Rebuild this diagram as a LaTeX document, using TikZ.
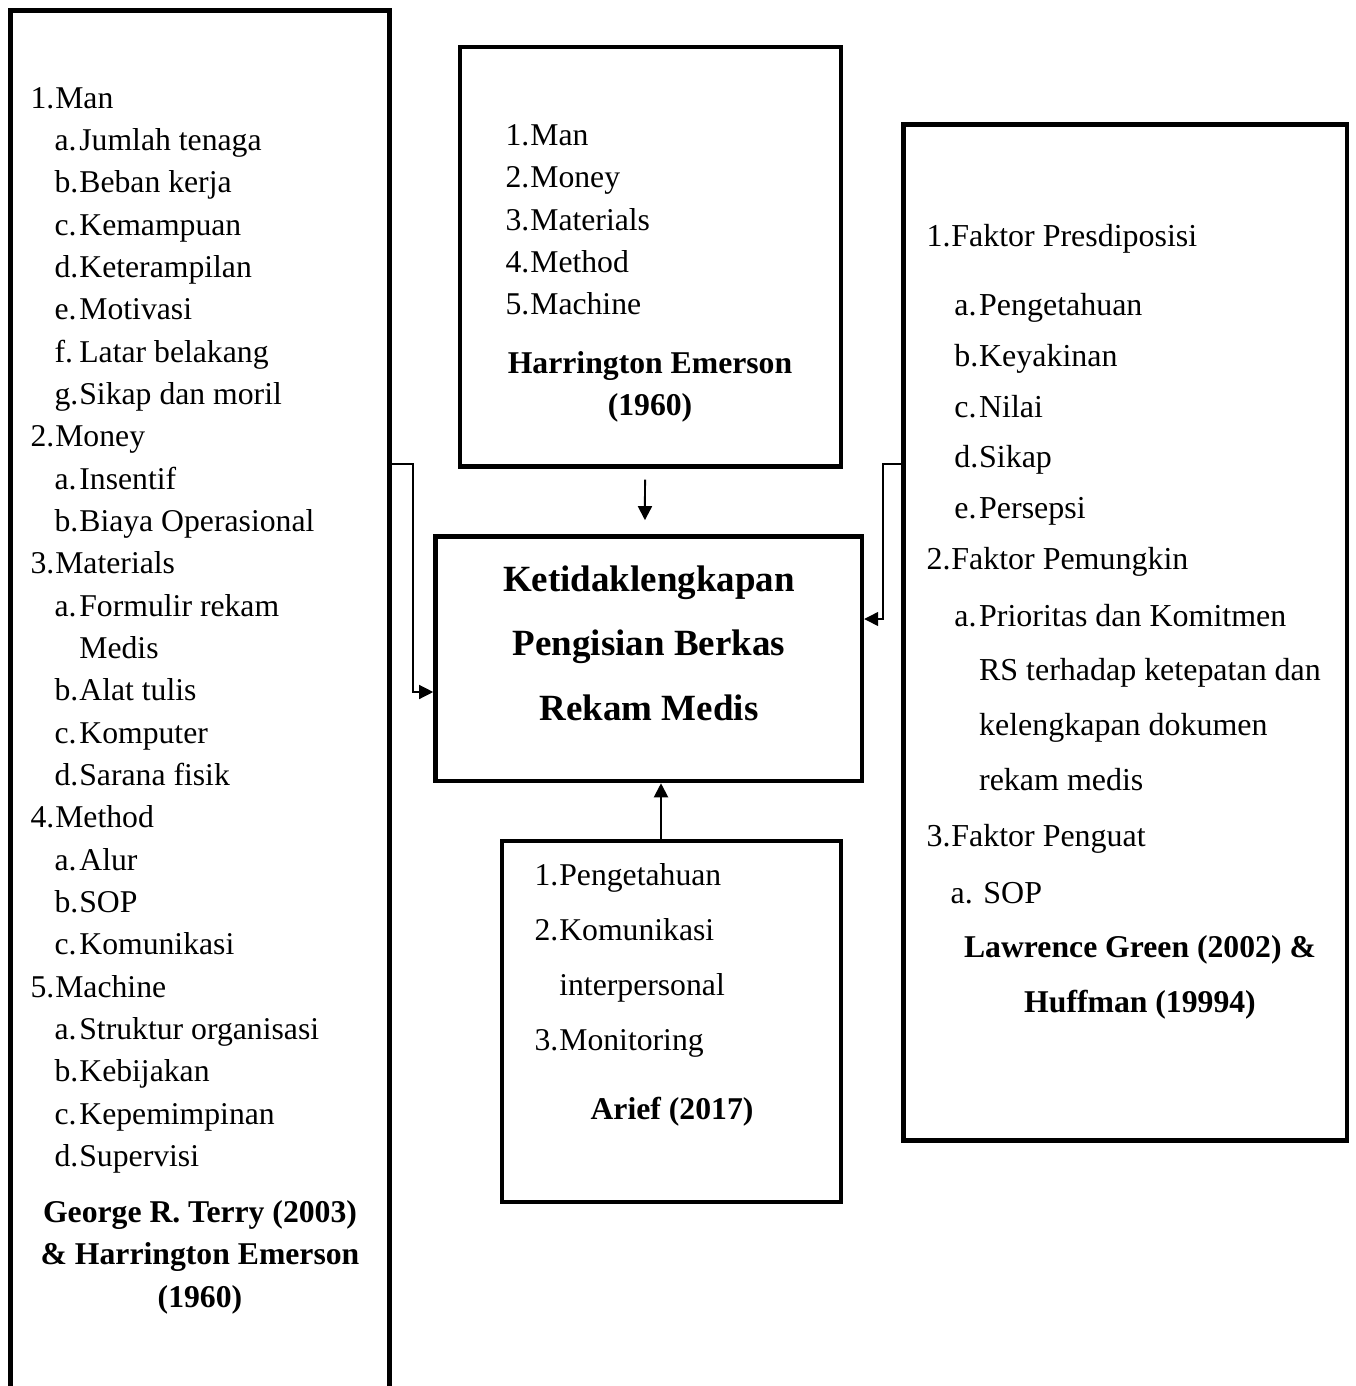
\documentclass[tikz,border=0pt]{standalone}
\usepackage{fontspec}
\setmainfont{Liberation Serif}
\usetikzlibrary{positioning, arrows.meta}

\newcommand{\itm}[2]{\makebox[0.33cm][l]{#1}#2}
\newcommand{\ind}{\hspace*{0.32cm}}
\newcommand{\indk}{\hspace*{0.37cm}}

\begin{document}
\begin{tikzpicture}[x=0.0133cm, y=-0.0133cm,
    kotak/.style={draw, line width=1.7pt, inner sep=0pt},
    isi/.style={anchor=north west, inner sep=0pt, align=left,
        font=\fontsize{12}{16.03}\selectfont},
    judul/.style={anchor=north, inner sep=0pt, align=center,
        font=\fontsize{12}{16.03}\selectfont\bfseries},
    panah/.style={-{Triangle[length=5.3pt, width=5.3pt]}, line width=0.75pt},
    garis/.style={-{Triangle[length=5.3pt, width=5.3pt]}, line width=0.5pt}]
    \clip (0,0) rectangle (1355,1386);

    % kotak
    \node [kotak, minimum width=5.046cm, minimum height=18.75cm] (terry) at (200,715) {};
    \node [kotak, minimum width=5.067cm, minimum height=5.579cm] (emerson) at (650.5,256.8) {};
    \node [kotak, minimum width=5.675cm, minimum height=3.255cm] (pusat) at (648.7,658.7) {};
    \node [kotak, minimum width=4.509cm, minimum height=4.801cm] (arief) at (671.5,1021.5) {};
    \node [kotak, minimum width=5.903cm, minimum height=13.52cm] (green) at (1125.4,632.6) {};

    % isi kiri
    \node [isi] (terrylist) at (30,86.6) {
        \itm{1.}{Man}\\
        \ind\itm{a.}{Jumlah tenaga}\\
        \ind\itm{b.}{Beban kerja}\\
        \ind\itm{c.}{Kemampuan}\\
        \ind\itm{d.}{Keterampilan}\\
        \ind\itm{e.}{Motivasi}\\
        \ind\itm{f.}{Latar belakang}\\
        \ind\itm{g.}{Sikap dan moril}\\
        \itm{2.}{Money}\\
        \ind\itm{a.}{Insentif}\\
        \ind\itm{b.}{Biaya Operasional}\\
        \itm{3.}{Materials}\\
        \ind\itm{a.}{Formulir rekam}\\
        \ind\itm{}{Medis}\\
        \ind\itm{b.}{Alat tulis}\\
        \ind\itm{c.}{Komputer}\\
        \ind\itm{d.}{Sarana fisik}\\
        \itm{4.}{Method}\\
        \ind\itm{a.}{Alur}\\
        \ind\itm{b.}{SOP}\\
        \ind\itm{c.}{Komunikasi}\\
        \itm{5.}{Machine}\\
        \ind\itm{a.}{Struktur organisasi}\\
        \ind\itm{b.}{Kebijakan}\\
        \ind\itm{c.}{Kepemimpinan}\\
        \ind\itm{d.}{Supervisi}
    };
    \node [judul] (terryref) at (200,1200) {George R. Terry (2003)\\ \& Harrington Emerson\\ (1960)};

    % isi atas
    \node [isi, font=\fontsize{12}{16.08}\selectfont] (emersonlist) at (505,123.6) {
        \itm{1.}{Man}\\
        \itm{2.}{Money}\\
        \itm{3.}{Materials}\\
        \itm{4.}{Method}\\
        \itm{5.}{Machine}
    };
    \node [judul] (emersonref) at (650,350.6) {Harrington Emerson\\ (1960)};

    % isi tengah
    \node [judul, font=\fontsize{14}{24.4}\selectfont\bfseries] (pusattext) at (649,565) {
        Ketidaklengkapan\\ Pengisian Berkas\\ Rekam Medis};

    % isi bawah
    \node [isi, font=\fontsize{12}{20.8}\selectfont] (arieflist) at (534,863.3) {
        \itm{1.}{Pengetahuan}\\
        \itm{2.}{Komunikasi}\\
        \itm{}{interpersonal}\\
        \itm{3.}{Monitoring}
    };
    \node [judul] (ariefref) at (672,1097) {Arief (2017)};

    % isi kanan
    \node [isi, font=\fontsize{12.1}{19.2}\selectfont] (greenlist) at (926,223.5) {
        \itm{1.}{Faktor Presdiposisi}\\[0.25cm]
        \indk\itm{a.}{Pengetahuan}\\
        \indk\itm{b.}{Keyakinan}\\
        \indk\itm{c.}{Nilai}\\
        \indk\itm{d.}{Sikap}\\
        \indk\itm{e.}{Persepsi}\\
        \itm{2.}{Faktor Pemungkin}\\[0.09cm]
        \indk\itm{a.}{Prioritas dan Komitmen}\\[0.045cm]
        \indk\itm{}{RS terhadap ketepatan dan}\\[0.055cm]
        \indk\itm{}{kelengkapan dokumen}\\[0.055cm]
        \indk\itm{}{rekam medis}\\[0.075cm]
        \itm{3.}{Faktor Penguat}\\[0.075cm]
        \ind a. SOP
    };
    \node [judul, font=\fontsize{12}{20.8}\selectfont\bfseries] (greenref) at (1140,934.8) {
        Lawrence Green (2002) \&\\ Huffman (19994)};

    % panah
    \draw[garis] (terry.east |- 0,464) -| (413,692) -- (pusat.west |- 0,692);
    \draw[garis] (green.west |- 0,464) -| (883,619) -- (pusat.east |- 0,619);
    \draw[panah] ([xshift=-0.073cm, yshift=-0.146cm]emerson.south) -- ([xshift=-0.05cm, yshift=0.186cm]pusat.north);
    \draw[panah] (arief.north -| 661,0) -- (pusat.south -| 661,0);
\end{tikzpicture}
\end{document}
